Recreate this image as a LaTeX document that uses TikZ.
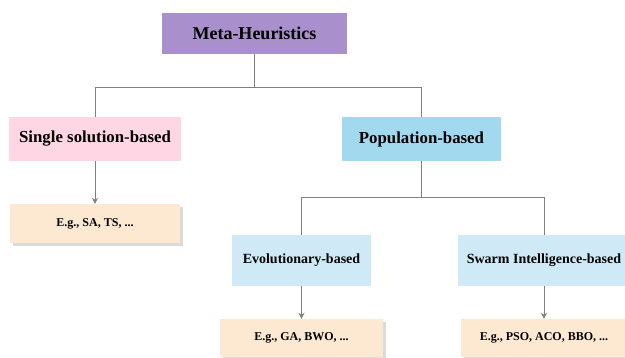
\documentclass[tikz,border=0pt]{standalone}
\usepackage{fontspec}
\setmainfont{Liberation Serif}
\usetikzlibrary{arrows.meta,shadows}
\definecolor{metapurple}{HTML}{A98FCB}
\definecolor{singlepink}{HTML}{FFD6E3}
\definecolor{popblue}{HTML}{A3D9EF}
\definecolor{subblue}{HTML}{CFEAF6}
\definecolor{peach}{HTML}{FDE8D1}
\definecolor{linegray}{HTML}{7F7F7F}
\begin{document}
\begin{tikzpicture}[x=1pt,y=-1pt,
  box/.style={rectangle, inner sep=0pt},
  conn/.style={draw=linegray, line width=0.9pt},
  arr/.style={conn, -{Stealth[length=6pt,width=6pt]}},
  lvlone/.style={box, font=\bfseries\fontsize{18}{20}\selectfont},
  lvltwo/.style={box, minimum height=44pt, font=\bfseries\fontsize{16.8}{19}\selectfont},
  lvlthree/.style={box, fill=subblue, minimum height=51pt, font=\bfseries\fontsize{14}{16}\selectfont},
  ex/.style={box, fill=peach, font=\bfseries\fontsize{12}{14}\selectfont,
    drop shadow={shadow xshift=2.5pt, shadow yshift=-2.5pt, fill=black!14, opacity=1}}]
\useasboundingbox (0,0) rectangle (625,357);
\clip (0,0) rectangle (625,357);
\fill[white] (0,0) rectangle (625,357);

\node[lvlone, fill=metapurple, minimum width=185pt, minimum height=41pt] (meta) at (254.5,33.5) {Meta-Heuristics};
\node[lvltwo, fill=singlepink, minimum width=172pt] (single) at (95,139) {Single solution-based};
\node[lvltwo, fill=popblue, minimum width=159pt] (pop) at (421.5,139) {Population-based};
\node[ex, minimum width=170pt, minimum height=39pt] (sa) at (95,223.5) {E.g., SA, TS, ...};
\node[lvlthree, minimum width=139pt] (evo) at (301.5,260.5) {Evolutionary-based};
\node[lvlthree, minimum width=172pt] (swarm) at (544,260.5) {Swarm Intelligence-based};
\node[ex, minimum width=163pt, minimum height=38pt] (ga) at (301.5,338) {E.g., GA, BWO, ...};
\node[ex, minimum width=166pt, minimum height=38pt] (pso) at (544,338) {E.g., PSO, ACO, BBO, ...};

\path (meta.south) ++(0,33) coordinate (mj);
\draw[conn] (meta.south) -- (mj);
\draw[conn] (mj) -| (single.north);
\draw[conn] (mj) -| (pop.north);
\draw[arr] (single.south) -- (sa.north);

\path (pop.south) ++(0,36) coordinate (pj);
\draw[conn] (pop.south) -- (pj);
\draw[conn] (pj) -| (evo.north);
\draw[conn] (pj) -| (swarm.north);
\draw[arr] (evo.south) -- (ga.north);
\draw[arr] (swarm.south) -- (pso.north);
\end{tikzpicture}
\end{document}
